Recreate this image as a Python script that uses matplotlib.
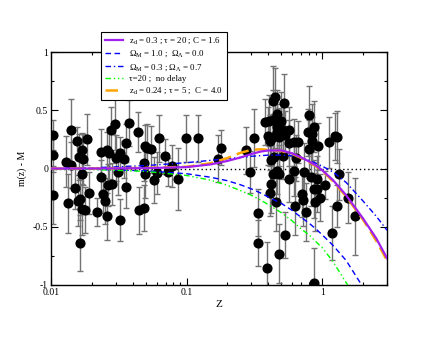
import matplotlib
matplotlib.use("Agg")
import matplotlib.pyplot as plt
from matplotlib.ticker import LogLocator, FixedLocator, FixedFormatter, MultipleLocator, NullFormatter

plt.rcParams['font.family'] = ['Liberation Serif', 'DejaVu Serif']
plt.rcParams['mathtext.fontset'] = 'custom'
plt.rcParams['mathtext.rm'] = 'Liberation Serif'
plt.rcParams['mathtext.it'] = 'Liberation Serif:italic'

# ---- data points (z, m(z)-M, error) ----
z_obs = [0.0103, 0.0103, 0.0103, 0.0140, 0.0130, 0.0140, 0.0134, 0.0150, 0.0156, 0.0169,
         0.0162, 0.0173, 0.0169, 0.0158, 0.0165, 0.0169, 0.0177, 0.0163, 0.0185, 0.0191,
         0.0217, 0.0232, 0.0232, 0.0240, 0.0248, 0.0260, 0.0266, 0.0260, 0.0263, 0.0281,
         0.0275, 0.0294, 0.0304, 0.0325, 0.0344, 0.0314, 0.0325, 0.0356, 0.0356, 0.0377,
         0.0436, 0.0446, 0.0491, 0.0514, 0.0550, 0.0622, 0.0486, 0.0491, 0.0486, 0.0575,
         0.0602, 0.0697, 0.0729, 0.0780, 0.0864, 0.0994, 0.1211, 0.170, 0.180, 0.275,
         0.294, 0.315, 0.333, 0.337, 0.394, 0.375, 0.403, 0.431, 0.431, 0.451,
         0.396, 0.412, 0.431, 0.461, 0.420, 0.444, 0.431, 0.461, 0.420, 0.412,
         0.455, 0.477, 0.520, 0.464, 0.497, 0.464, 0.511, 0.572, 0.480, 0.530,
         0.572, 0.615, 0.658, 0.511, 0.640, 0.480, 0.572, 0.620, 0.737, 0.705,
         0.725, 0.630, 0.756, 0.530, 0.800, 0.780, 0.835, 0.873, 0.800, 0.835,
         0.934, 0.820, 0.920, 0.873, 0.920, 0.966, 0.890, 1.046, 1.125, 1.171,
         0.873, 1.246, 1.274, 1.318, 1.274, 1.535, 1.729]
m_obs = [0.29, 0.12, -0.23, 0.33, 0.06, 0.03, -0.30, -0.17, 0.24, 0.155,
         0.10, 0.08, -0.05, -0.275, -0.26, -0.35, -0.355, -0.64, 0.25, -0.21,
         -0.375, 0.14, -0.07, -0.22, -0.28, 0.16, 0.13, -0.41, -0.14, -0.13,
         0.33, 0.38, 0.09, 0.13, 0.08, -0.03, -0.44, 0.22, -0.16, 0.39,
         0.315, -0.36, 0.19, 0.18, 0.165, 0.26, 0.05, -0.05, -0.34, -0.10,
         -0.04, 0.105, -0.03, 0.02, -0.09, 0.26, 0.26, 0.085, 0.18, 0.155,
         -0.03, 0.26, -0.38, -0.64, -0.85, 0.40, 0.41, 0.42, 0.58, 0.61,
         0.28, 0.24, 0.27, 0.31, 0.07, 0.10, -0.05, -0.02, -0.13, -0.21,
         -0.29, -0.73, 0.56, 0.47, 0.41, 0.355, 0.33, 0.33, 0.27, 0.29,
         0.22, 0.225, 0.225, 0.11, 0.09, -0.05, -0.09, -0.02, -0.03, -0.22,
         -0.27, -0.32, -0.375, -0.57, 0.455, 0.31, 0.30, 0.36, 0.17, 0.24,
         0.19, -0.075, -0.09, -0.175, -0.175, -0.25, -0.29, -0.14, 0.225, -0.555,
         -0.98, 0.275, 0.27, -0.05, -0.32, -0.25, -0.41]
e_obs = [0.13, 0.15, 0.25, 0.27, 0.22, 0.20, 0.25, 0.18, 0.12, 0.15,
         0.20, 0.22, 0.20, 0.22, 0.18, 0.22, 0.20, 0.24, 0.22, 0.18,
         0.12, 0.20, 0.14, 0.16, 0.20, 0.15, 0.22, 0.20, 0.18, 0.18,
         0.20, 0.22, 0.20, 0.14, 0.16, 0.20, 0.18, 0.16, 0.18, 0.20,
         0.17, 0.20, 0.18, 0.20, 0.20, 0.20, 0.16, 0.20, 0.20, 0.20,
         0.18, 0.15, 0.12, 0.18, 0.27, 0.20, 0.20, 0.20, 0.15, 0.20,
         0.18, 0.25, 0.20, 0.20, 0.22, 0.20, 0.22, 0.25, 0.30, 0.25,
         0.25, 0.22, 0.20, 0.20, 0.20, 0.18, 0.22, 0.20, 0.25, 0.20,
         0.25, 0.25, 0.25, 0.20, 0.25, 0.20, 0.22, 0.20, 0.25, 0.20,
         0.20, 0.20, 0.18, 0.20, 0.20, 0.25, 0.20, 0.22, 0.25, 0.20,
         0.22, 0.25, 0.25, 0.20, 0.25, 0.20, 0.25, 0.22, 0.25, 0.20,
         0.20, 0.25, 0.20, 0.25, 0.20, 0.20, 0.25, 0.12, 0.22, 0.23,
         0.30, 0.20, 0.22, 0.22, 0.18, 0.22, 0.33]

# ---- model curves ----
z_curve = [0.01, 0.02, 0.05, 0.1, 0.15, 0.2, 0.25, 0.3, 0.35, 0.4, 0.5, 0.6, 0.7,
           0.8, 0.9, 1.0, 1.2, 1.5, 2.0, 2.5, 3.0]
m_delay = [0.0, 0.0, 0.003, 0.012, 0.035, 0.065, 0.095, 0.125, 0.145, 0.155, 0.155, 0.13, 0.095,
           0.06, 0.025, -0.015, -0.1, -0.23, -0.43, -0.6, -0.77]
m_eds = [-0.002, -0.006, -0.02, -0.045, -0.075, -0.105, -0.14, -0.175, -0.21, -0.245, -0.3, -0.36, -0.42,
         -0.47, -0.52, -0.57, -0.66, -0.79, -1.02, -1.2, -1.35]
m_lcdm = [0.0, 0.005, 0.025, 0.05, 0.07, 0.085, 0.095, 0.105, 0.11, 0.115, 0.115, 0.11, 0.09,
          0.07, 0.045, 0.02, -0.03, -0.12, -0.28, -0.41, -0.53]
m_nodelay = [-0.003, -0.008, -0.025, -0.06, -0.1, -0.145, -0.19, -0.23, -0.27, -0.31, -0.38, -0.45, -0.52,
             -0.57, -0.63, -0.68, -0.8, -0.98, -1.2, -1.4, -1.55]
m_delay2 = [0.0, 0.0, 0.005, 0.015, 0.045, 0.09, 0.135, 0.16, 0.165, 0.16, 0.15, 0.125, 0.09,
            0.055, 0.02, -0.02, -0.11, -0.24, -0.44, -0.62, -0.79]

labels = [r'z$_{\rm d}$ = 0.3 ; τ = 20 ; C = 1.6',
          r'Ω$_{\rm M}$ = 1.0 ;  Ω$_{\mathrm{Λ}}$ = 0.0',
          r'Ω$_{\rm M}$ = 0.3 ; Ω$_{\mathrm{Λ}}$ = 0.7',
          'τ=20 ;  no delay',
          r'z$_{\rm d}$ = 0.24 ; τ = 5 ;  C = 4.0']

fig = plt.figure(figsize=(4.36, 3.37), dpi=100)
ax = fig.add_axes([51/436, 1-285/337, (387-51)/436, (285-52)/337])

ax.errorbar(z_obs, m_obs, yerr=e_obs, fmt='o', color='black', markersize=6.3,
            ecolor='0.45', elinewidth=1.0, capsize=2.5, capthick=1.0, zorder=2)
ax.axhline(0, color='black', linestyle=(0, (1, 2)), linewidth=1.0, zorder=1)

l1, = ax.plot(z_curve, m_delay, color='#a020f0', linewidth=1.6, zorder=4)
l2, = ax.plot(z_curve, m_eds, color='#0000ff', linewidth=1.0, dashes=(4, 2.5), zorder=3)
l3, = ax.plot(z_curve, m_lcdm, color='#0000ff', linewidth=1.0, dashes=(4, 2, 1, 2), zorder=3)
l4, = ax.plot(z_curve, m_nodelay, color='#00ff00', linewidth=1.0, dashes=(4, 2, 1, 2, 1, 2), zorder=3)
l5, = ax.plot(z_curve, m_delay2, color='#ffa500', linewidth=1.8, dashes=(5, 2.5), zorder=3)

ax.set_xscale('log')
ax.set_xlim(0.01, 3.0)
ax.set_ylim(-1, 1)
ax.xaxis.set_major_locator(FixedLocator([0.01, 0.1, 1]))
ax.xaxis.set_major_formatter(FixedFormatter(['0.01', '0.1', '1']))
ax.xaxis.set_minor_locator(LogLocator(base=10, subs=range(2, 10)))
ax.xaxis.set_minor_formatter(NullFormatter())
ax.yaxis.set_major_locator(MultipleLocator(0.5))
ax.yaxis.set_minor_locator(MultipleLocator(0.25))
ax.set_yticks([-1, -0.5, 0, 0.5, 1])
ax.set_yticklabels(['-1', '-0.5', '0', '0.5', '1'])
ax.tick_params(which='both', direction='in', top=True, right=True, labelsize=7, width=0.8)
ax.tick_params(which='major', length=5, pad=2)
ax.tick_params(which='minor', length=2.5)
for s in ax.spines.values():
    s.set_linewidth(1.0)

ax.set_xlabel('Z', fontsize=8, labelpad=2)
ax.set_ylabel('m(z) - M', fontsize=7, labelpad=4)

leg = ax.legend([l1, l2, l3, l4, l5], labels, loc='upper left',
                bbox_to_anchor=(101/436, 1-32/337), bbox_transform=fig.transFigure,
                borderaxespad=0, fontsize=6.4, frameon=True, fancybox=False,
                framealpha=1, edgecolor='black', handlelength=2.0, handletextpad=0.7,
                labelspacing=0.3, borderpad=0.45)
leg.get_frame().set_linewidth(0.8)
leg.set_zorder(10)

fig.savefig('out.png', dpi=100)
